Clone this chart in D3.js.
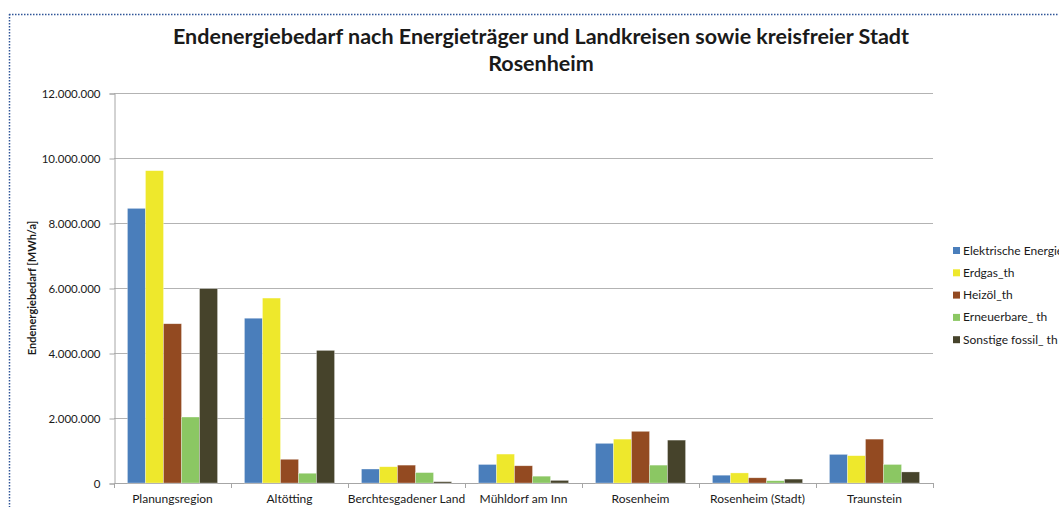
<!DOCTYPE html>
<html>
<head>
<meta charset="utf-8">
<script src="https://cdn.jsdelivr.net/npm/d3@7"></script>
<style>
  body { margin: 0; background: #fff; }
  text { font-family: Lato, "Open Sans", sans-serif; fill: #1a1a1a; }
</style>
</head>
<body>
<div id="chart"></div>
<script>
// Categories (x axis)
var regions = ["Planungsregion", "Altötting", "Berchtesgadener Land", "Mühldorf am Inn",
               "Rosenheim", "Rosenheim (Stadt)", "Traunstein"];

// Series names (legend)
var series = ["Elektrische Energie", "Erdgas_th", "Heizöl_th", "Erneuerbare_ th", "Sonstige fossil_ th"];

// Values per series, in MWh/a, one per region
var elektrisch = [8450000, 5070000, 430000, 570000, 1220000, 240000, 880000];
var erdgas     = [9610000, 5690000, 500000, 890000, 1350000, 310000, 840000];
var heizoel    = [4900000, 730000, 550000, 530000, 1590000, 160000, 1350000];
var erneuerbar = [2030000, 300000, 320000, 210000, 550000, 70000, 570000];
var sonstige   = [5980000, 4080000, 40000, 80000, 1320000, 120000, 340000];

// y axis ticks
var yTicks = [0, 2000000, 4000000, 6000000, 8000000, 10000000, 12000000];

var colors = ["#4a7ebb", "#eee82c", "#934a21", "#8bc763", "#46432b"];
var allValues = [elektrisch, erdgas, heizoel, erneuerbar, sonstige];

var width = 1059, height = 507;
var margin = { top: 93, right: 126, bottom: 24, left: 114 };

var svg = d3.select("#chart")
    .append("svg")
    .attr("width", width)
    .attr("height", height);

// dotted frame
svg.append("line")
    .attr("x1", 9).attr("x2", width).attr("y1", 14.5).attr("y2", 14.5)
    .attr("stroke", "#2f5597").attr("stroke-width", 1.5).attr("stroke-dasharray", "1.5,1.5");
svg.append("line")
    .attr("x1", 9.5).attr("x2", 9.5).attr("y1", 14).attr("y2", height)
    .attr("stroke", "#2f5597").attr("stroke-width", 1.5).attr("stroke-dasharray", "1.5,1.5");

var x0 = d3.scaleBand()
    .domain(regions)
    .range([margin.left, width - margin.right])
    .paddingInner(0.23)
    .paddingOuter(0.115);

var x1 = d3.scaleBand()
    .domain(series)
    .range([0, x0.bandwidth()]);

var y = d3.scaleLinear()
    .domain([0, 12000000])
    .range([height - margin.bottom, margin.top]);

var fmt = function(d) {
    return d3.format(",")(d).replace(/,/g, ".");
};

// gridlines
svg.append("g")
    .selectAll("line")
    .data(yTicks.slice(1))
    .enter()
    .append("line")
    .attr("x1", margin.left).attr("x2", width - margin.right)
    .attr("y1", function(d) { return Math.round(y(d)) + 0.5; })
    .attr("y2", function(d) { return Math.round(y(d)) + 0.5; })
    .attr("stroke", "#b3b3b3");

// y axis
var yAxis = svg.append("g")
    .attr("transform", "translate(" + (margin.left + 0.5) + ",0.5)")
    .call(d3.axisLeft(y).tickValues(yTicks).tickFormat(fmt).tickSize(5).tickPadding(9));
yAxis.selectAll("path, line").attr("stroke", "#a6a6a6");
yAxis.selectAll("text").style("font-size", "11.5px").style("font-family", "Lato, sans-serif").attr("fill", "#1a1a1a");

// x axis
var xEdges = [margin.left].concat(regions.map(function(r) { return x0(r) + x0.bandwidth() + x0.step() * x0.paddingInner() / 2; }));
var xAxis = svg.append("g");
xAxis.append("line")
    .attr("x1", margin.left).attr("x2", width - margin.right)
    .attr("y1", y(0) + 0.5).attr("y2", y(0) + 0.5)
    .attr("stroke", "#a6a6a6");
xAxis.selectAll(".tick")
    .data(xEdges)
    .enter()
    .append("line")
    .attr("x1", function(d) { return Math.round(d) + 0.5; })
    .attr("x2", function(d) { return Math.round(d) + 0.5; })
    .attr("y1", y(0)).attr("y2", y(0) + 5)
    .attr("stroke", "#a6a6a6");
xAxis.selectAll("text")
    .data(regions)
    .enter()
    .append("text")
    .attr("x", function(d) { return x0(d) + x0.bandwidth() / 2; })
    .attr("y", y(0) + 20)
    .attr("text-anchor", "middle")
    .style("font-size", "12px")
    .text(function(d) { return d; });

// bars
var groups = svg.append("g")
    .selectAll("g")
    .data(regions)
    .enter()
    .append("g")
    .attr("transform", function(d) { return "translate(" + x0(d) + ",0)"; });

groups.selectAll("rect")
    .data(function(d, i) {
        return series.map(function(s, j) { return { key: s, value: allValues[j][i], c: colors[j] }; });
    })
    .enter()
    .append("rect")
    .attr("x", function(d) { return x1(d.key); })
    .attr("width", x1.bandwidth())
    .attr("y", function(d) { return y(d.value); })
    .attr("height", function(d) { return y(0) - y(d.value); })
    .attr("fill", function(d) { return d.c; })
    .attr("stroke", "#ffffff")
    .attr("stroke-opacity", 0.5)
    .attr("stroke-width", 0.6);

// title
svg.append("text")
    .attr("x", 541).attr("y", 44)
    .attr("text-anchor", "middle")
    .style("font-size", "21.5px").style("font-weight", "bold")
    .text("Endenergiebedarf nach Energieträger und Landkreisen sowie kreisfreier Stadt");
svg.append("text")
    .attr("x", 541).attr("y", 71)
    .attr("text-anchor", "middle")
    .style("font-size", "21.5px").style("font-weight", "bold")
    .text("Rosenheim");

// y axis title
svg.append("text")
    .attr("transform", "translate(36," + ((margin.top + y(0)) / 2) + ") rotate(-90)")
    .attr("text-anchor", "middle")
    .style("font-size", "11px").style("font-weight", "bold")
    .text("Endenergiebedarf [MWh/a]");

// legend
var legend = svg.append("g")
    .selectAll("g")
    .data(series)
    .enter()
    .append("g")
    .attr("transform", function(d, i) { return "translate(953," + (247 + i * 22.3) + ")"; });
legend.append("rect")
    .attr("width", 7).attr("height", 7)
    .attr("fill", function(d, i) { return colors[i]; });
legend.append("text")
    .attr("x", 10).attr("y", 7.5)
    .style("font-size", "12px")
    .text(function(d) { return d; });
</script>
</body>
</html>
